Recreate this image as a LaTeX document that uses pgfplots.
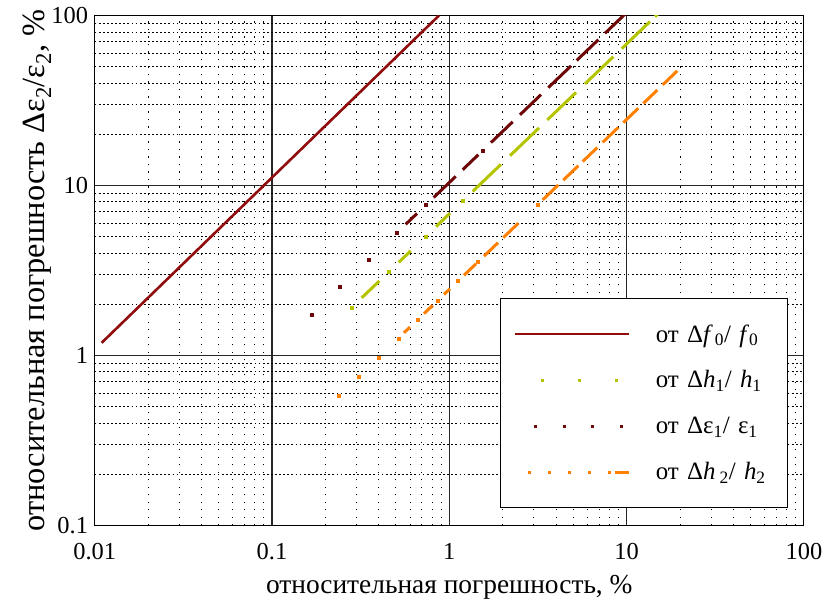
\documentclass[border=0pt]{standalone}
\usepackage{fontspec}
\setmainfont{Liberation Serif}
\usepackage{pgfplots}
\pgfplotsset{compat=1.18}
\definecolor{solidred}{RGB}{145,12,12}
\definecolor{darkred}{RGB}{110,8,8}
\definecolor{ygreen}{RGB}{181,196,0}
\definecolor{orng}{RGB}{255,128,0}
\newcommand{\tickfont}{\fontsize{24.5}{28}\selectfont}
\newcommand{\xlabfont}{\fontsize{27.5}{32}\selectfont}
\newcommand{\ylabfont}{\fontsize{32.5}{38}\selectfont}
\begin{document}
\begin{tikzpicture}
\begin{axis}[
  name=ax,
  scale only axis, width=709.2bp, height=509.8bp,
  xmode=log, ymode=log,
  xmin=0.01, xmax=100, ymin=0.1, ymax=100,
  xtick={0.01,0.1,1,10,100}, ytick={0.1,1,10,100},
  minor xtick={0.02,0.03,0.04,0.05,0.06,0.07,0.08,0.09,0.2,0.3,0.4,0.5,0.6,0.7,0.8,0.9,2,3,4,5,6,7,8,9,20,30,40,50,60,70,80,90},
  minor ytick={0.2,0.3,0.4,0.5,0.6,0.7,0.8,0.9,2,3,4,5,6,7,8,9,20,30,40,50,60,70,80,90},
  log ticks with fixed point,
  /pgf/number format/assume math mode=true,
  grid=both,
  major grid style={black!85, line width=1.1bp},
  minor x grid style={black, line width=0.9bp, dash pattern=on 1.3bp off 6.2bp},
  minor y grid style={black, line width=0.9bp, dash pattern=on 1.8bp off 2.3bp},
  tick style={draw=none},
  axis line style={line width=1bp},
  xticklabel style={anchor=base, yshift=-34bp, font=\tickfont},
  yticklabel style={anchor=east, inner sep=0pt, xshift=-6.5bp, font=\tickfont},
  xlabel={относительная погрешность, \%},
  ylabel={относительная погрешность Δε\textsubscript{2}/ε\textsubscript{2}, \%},
  xlabel style={at={(axis description cs:0.5,-0.1334)}, anchor=base, font=\xlabfont},
  ylabel style={at={(axis description cs:-0.0705,0.5)}, anchor=base, font=\ylabfont},
  unbounded coords=jump,
  legend style={at={(0.5715,0.4453)}, anchor=north west, draw=black, line width=1bp, fill=white,
    inner xsep=13bp, inner ysep=12.3bp, row sep=0pt, column sep=0pt,
    font=\fontsize{25}{30}\selectfont,
    nodes={inner sep=0pt, minimum height=46bp, text width=119bp, align=left}},
  legend cell align=left,
]
% solid: from Delta f0 / f0
\addplot[solidred, line width=2.6bp,
  legend image code/.code={\draw[line width=2.6bp] (0bp,0bp)--(114bp,0bp); \path[draw=none] (141bp,0bp);}]
  coordinates {(0.01095,1.186) (0.875,100)};
\addlegendentry{от Δ\textit{f}\kern2bp\textsubscript{0}/ \textit{f}\textsubscript{0}}

% green: from Delta h1 / h1
\addplot[ygreen, line width=3bp,
  legend image code/.code={\path[draw=none] (0bp,0bp) (141bp,0bp);
    \fill[ygreen, draw=none] (26.2bp,-1.5bp) rectangle (29.2bp,1.5bp);
    \fill[ygreen, draw=none] (63.2bp,-1.5bp) rectangle (66.2bp,1.5bp);
    \fill[ygreen, draw=none] (100.2bp,-1.5bp) rectangle (103.2bp,1.5bp);}]
  table[row sep=\\] {x y\\
  0.32057 2.1799\\ 0.40289 2.7397\\ nan nan\\
  0.51834 3.5247\\ 0.60574 4.1190\\ nan nan\\
  0.8414 5.7215\\ 1.0091 6.8619\\ nan nan\\
  1.3551 9.2147\\ 1.957 13.308\\ nan nan\\
  2.1997 14.958\\ 3.2057 21.799\\ nan nan\\
  3.5705 24.279\\ 5.1834 35.247\\ nan nan\\
  5.826 39.617\\ 8.414 57.215\\ nan nan\\
  9.3836 63.808\\ 13.551 92.147\\ nan nan\\
  14.46 98.328\\ 15.837 107.69\\
  };
\addlegendentry{от Δ\textit{h}\textsubscript{1}/ \textit{h}\textsubscript{1}}
\addplot[ygreen, only marks, mark=square*, mark size=1.5bp, forget plot]
  table[row sep=\\] {x y\\ 0.28153 1.9144\\ 0.4552 3.0954\\ 0.7360 5.0048\\ 1.1901 8.0927\\};

% dark red: from Delta eps1 / eps1
\addplot[darkred, line width=3bp,
  legend image code/.code={\path[draw=none] (0bp,0bp) (141bp,0bp);
    \fill[darkred, draw=none] (19.2bp,-1.5bp) rectangle (22.2bp,1.5bp);
    \fill[darkred, draw=none] (47.8bp,-1.5bp) rectangle (50.8bp,1.5bp);
    \fill[darkred, draw=none] (76.5bp,-1.5bp) rectangle (79.5bp,1.5bp);
    \fill[darkred, draw=none] (105.5bp,-1.5bp) rectangle (108.5bp,1.5bp);}]
  table[row sep=\\] {x y\\
  0.5677 5.904\\ 0.6574 6.837\\ nan nan\\
  0.8166 8.493\\ 1.0867 11.302\\ nan nan\\
  1.1901 12.377\\ 1.4573 15.156\\ nan nan\\
  1.7186 17.873\\ 2.2782 23.693\\ nan nan\\
  2.5047 26.049\\ 3.290 34.216\\ nan nan\\
  3.6173 37.620\\ 4.8575 50.518\\ nan nan\\
  5.2307 54.399\\ 6.9243 72.013\\ nan nan\\
  7.5538 78.560\\ 9.9225 103.19\\
  };
\addlegendentry{от Δε\textsubscript{1}/ ε\textsubscript{1}}
\addplot[darkred, only marks, mark=square*, mark size=1.5bp, forget plot]
  table[row sep=\\] {x y\\ 0.16747 1.7417\\ 0.24247 2.5217\\ 0.35107 3.6511\\ 0.50834 5.2867\\ 0.7360 7.6544\\ 1.543 16.047\\};

% orange: from Delta h2 / h2
\addplot[orng, line width=3bp,
  legend image code/.code={\path[draw=none] (0bp,0bp) (141bp,0bp);
    \fill[orng, draw=none] (13.5bp,-1.5bp) rectangle (16.5bp,1.5bp);
    \fill[orng, draw=none] (33.5bp,-1.5bp) rectangle (36.5bp,1.5bp);
    \fill[orng, draw=none] (53.2bp,-1.5bp) rectangle (56.2bp,1.5bp);
    \fill[orng, draw=none] (72.8bp,-1.5bp) rectangle (75.8bp,1.5bp);
    \fill[orng, draw=none] (92.8bp,-1.5bp) rectangle (95.8bp,1.5bp);
    \fill[orng, draw=none] (99.7bp,-1.5bp) rectangle (113.7bp,1.5bp);}]
  table[row sep=\\] {x y\\
  0.55527 1.3576\\ 0.60026 1.4676\\ nan nan\\
  0.71997 1.7603\\ 0.80608 1.9709\\ nan nan\\
  0.9335 2.2824\\ 1.0091 2.4672\\ nan nan\\
  1.2103 2.9592\\ 1.4144 3.4582\\ nan nan\\
  1.5693 3.8369\\ 1.8823 4.6022\\ nan nan\\
  2.0164 4.9301\\ 2.450 5.9903\\ nan nan\\
  3.3635 8.2238\\ 4.1189 10.071\\ nan nan\\
  4.3952 10.746\\ 5.3405 13.058\\ nan nan\\
  5.6545 13.825\\ 6.835 16.712\\ nan nan\\
  7.3317 17.926\\ 8.978 21.951\\ nan nan\\
  9.580 23.423\\ 11.641 28.462\\ nan nan\\
  12.422 30.372\\ 14.899 36.428\\ nan nan\\
  15.981 39.074\\ 19.318 47.233\\
  };
\addlegendentry{от Δ\textit{h}\kern4bp\textsubscript{2}/ \textit{h}\textsubscript{2}}
\addplot[orng, only marks, mark=square*, mark size=1.5bp, forget plot]
  table[row sep=\\] {x y\\ 0.23780 0.58142\\ 0.30832 0.75384\\ 0.39775 0.97250\\ 0.51564 1.2607\\ 0.6660 1.6284\\ 0.8635 2.1113\\ 1.1196 2.7374\\ 1.4517 3.5494\\ 3.1520 7.7066\\};
\end{axis}
\pgfresetboundingbox
\path[use as bounding box] ([shift={(-94.7bp,-79.7bp)}]ax.south west) rectangle ([shift={(18.1bp,15.5bp)}]ax.north east);
\end{tikzpicture}
\end{document}
